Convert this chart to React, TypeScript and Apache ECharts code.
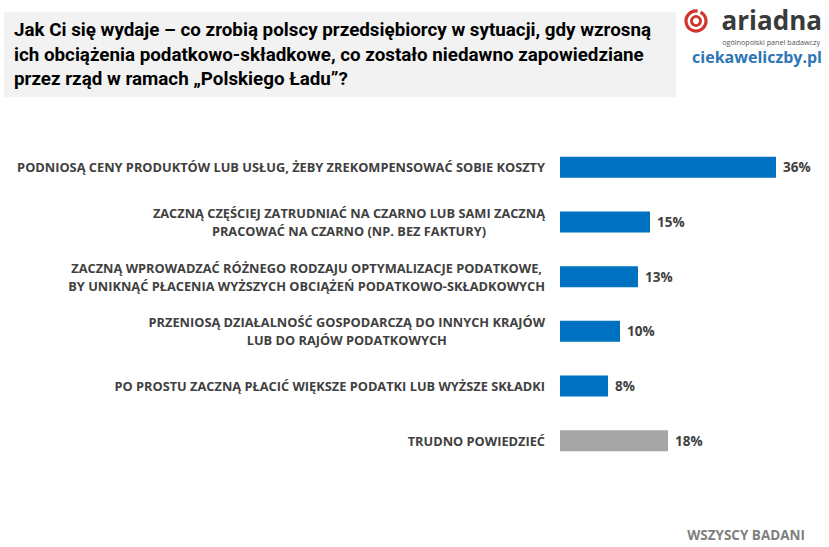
import React, { useEffect, useRef } from "react";
import * as echarts from "echarts";

const titleLines = [
  "Jak Ci się wydaje – co zrobią polscy przedsiębiorcy w sytuacji, gdy wzrosną",
  "ich obciążenia podatkowo-składkowe, co zostało niedawno zapowiedziane",
  "przez rząd w ramach „Polskiego Ładu”?",
];

const categories = [
  "PODNIOSĄ CENY PRODUKTÓW LUB USŁUG, ŻEBY ZREKOMPENSOWAĆ SOBIE KOSZTY",
  "ZACZNĄ CZĘŚCIEJ ZATRUDNIAĆ NA CZARNO LUB SAMI ZACZNĄ\nPRACOWAĆ NA CZARNO (NP. BEZ FAKTURY)",
  "ZACZNĄ WPROWADZAĆ RÓŻNEGO RODZAJU OPTYMALIZACJE PODATKOWE,\nBY UNIKNĄĆ PŁACENIA WYŻSZYCH OBCIĄŻEŃ PODATKOWO-SKŁADKOWYCH",
  "PRZENIOSĄ DZIAŁALNOŚĆ GOSPODARCZĄ DO INNYCH KRAJÓW\nLUB DO RAJÓW PODATKOWYCH",
  "PO PROSTU ZACZNĄ PŁACIĆ WIĘKSZE PODATKI LUB WYŻSZE SKŁADKI",
  "TRUDNO POWIEDZIEĆ",
];

const values = [36, 15, 13, 10, 8, 18];

const footnote = "WSZYSCY BADANI";
const brandName = "ariadna";
const brandTagline = "ogólnopolski panel badawczy";
const brandSite = "ciekaweliczby.pl";

const BLUE = "#0070C0";
const GREY = "#A6A6A6";
const TEXT = "#404040";
const FONT = "'Open Sans', 'Liberation Sans', sans-serif";
const TITLE_FONT = "'Liberation Sans Narrow', 'Roboto', sans-serif";

export default function App() {
  const ref = useRef<HTMLDivElement>(null);

  useEffect(() => {
    if (!ref.current) return;
    const chart = echarts.init(ref.current, undefined, { renderer: "svg" });
    const option: any = {
      animation: false,
      backgroundColor: "#ffffff",
      grid: { left: 560, top: 140, width: 240, height: 328, containLabel: false },
      xAxis: {
        type: "value",
        min: 0,
        max: 40,
        show: false,
      },
      yAxis: {
        type: "category",
        data: categories,
        inverse: true,
        axisLine: { show: false },
        axisTick: { show: false },
        splitLine: { show: false },
        axisLabel: {
          align: "right",
          margin: 15,
          formatter: (v: string) =>
            v
              .split("\n")
              .map((l) => `{c|${l}}`)
              .join("\n"),
          rich: {
            c: {
              align: "center",
              fontFamily: FONT,
              fontWeight: "bold",
              fontSize: 12.8,
              color: TEXT,
              lineHeight: 18,
            },
          },
        },
      },
      series: [
        {
          type: "bar",
          data: values,
          barWidth: 21,
          itemStyle: {
            color: (p: any) => (p.dataIndex === values.length - 1 ? GREY : BLUE),
          },
          label: {
            show: true,
            position: "right",
            distance: 7,
            formatter: "{c}%",
            fontFamily: FONT,
            fontWeight: "bold",
            fontSize: 13.5,
            color: TEXT,
          },
        },
      ],
      graphic: [
        {
          type: "rect",
          shape: { x: 4, y: 12, width: 672, height: 85 },
          style: { fill: "#F2F2F2" },
          silent: true,
        },
        {
          type: "text",
          x: 14,
          y: 18,
          style: {
            text: titleLines.join("\n"),
            font: `bold 18.8px ${TITLE_FONT}`,
            fill: "#000000",
            lineHeight: 24.5,
            textVerticalAlign: "top",
          },
        },
        {
          type: "arc",
          shape: { cx: 696, cy: 21, r: 10, startAngle: -Math.PI * 0.35, endAngle: Math.PI * 1.55 },
          style: { stroke: "#D0342C", lineWidth: 3.2, fill: "none" },
        },
        {
          type: "circle",
          shape: { cx: 696, cy: 21, r: 4.5 },
          style: { stroke: "#D0342C", lineWidth: 2.8, fill: "none" },
        },
        {
          type: "text",
          x: 822,
          y: 20,
          style: {
            text: brandName,
            font: `bold 26px ${FONT}`,
            fill: "#3A3A3A",
            textAlign: "right",
            textVerticalAlign: "middle",
          },
        },
        {
          type: "text",
          x: 820,
          y: 42,
          style: {
            text: brandTagline,
            font: `7.2px ${FONT}`,
            fill: "#555555",
            textAlign: "right",
            textVerticalAlign: "middle",
          },
        },
        {
          type: "text",
          x: 822,
          y: 57,
          style: {
            text: brandSite,
            font: `bold 16px ${FONT}`,
            fill: "#2E75B6",
            textAlign: "right",
            textVerticalAlign: "middle",
          },
        },
        {
          type: "text",
          x: 805,
          y: 535,
          style: {
            text: footnote,
            font: `bold 13.5px ${FONT}`,
            fill: "#7F7F7F",
            textAlign: "right",
            textVerticalAlign: "middle",
          },
        },
      ],
    };
    chart.setOption(option);
    return () => chart.dispose();
  }, []);

  return (
    <div
      ref={ref}
      style={{ position: "absolute", left: 0, top: 0, width: 829, height: 547 }}
    />
  );
}
